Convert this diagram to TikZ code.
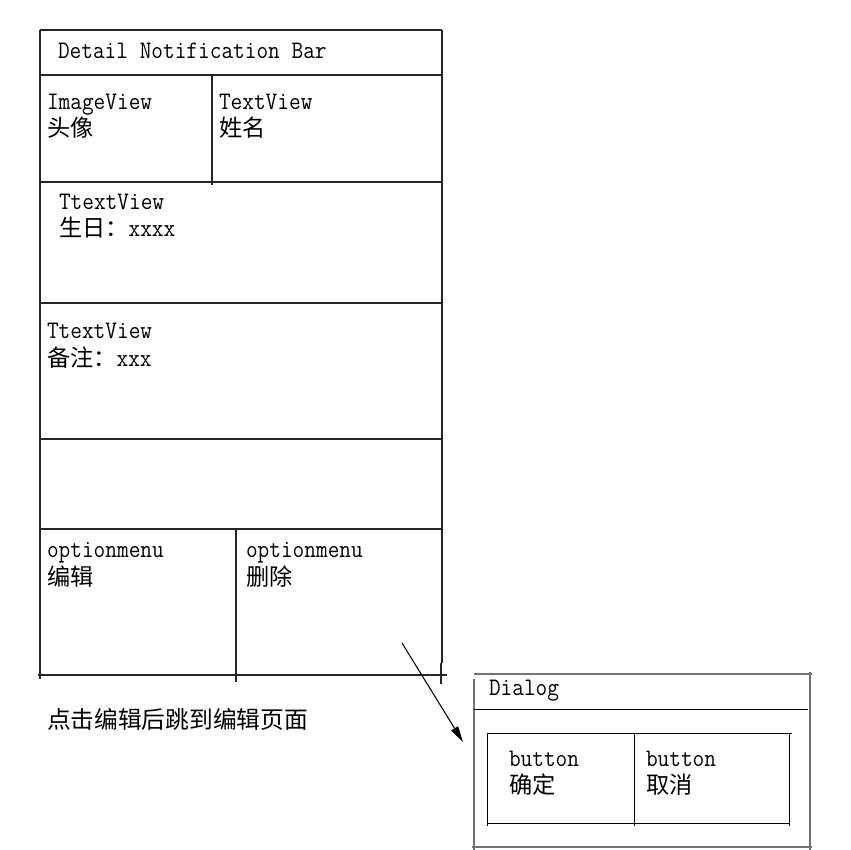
\documentclass[tikz,border=0pt]{standalone}
\usepackage{fontspec}
\usetikzlibrary{arrows.meta}
\newfontfamily\cjk{Noto Sans CJK SC}
\newfontfamily\lmm[FakeStretch=0.9]{Latin Modern Mono}
\newcommand{\latsz}{\lmm\fontsize{18.9pt}{21pt}\selectfont}
\newcommand{\cjksz}{\cjk\fontsize{17.4pt}{21pt}\selectfont}
\newcommand{\notesz}{\cjk\fontsize{17.8pt}{21pt}\selectfont}
\begin{document}
\begin{tikzpicture}[x=0.75pt,y=-0.75pt,
  ln/.style={line width=0.9pt,draw=black!85},
  gl/.style={line width=1pt,draw=black!55},
  thin/.style={line width=0.75pt,draw=black},
  tx/.style={anchor=base west,inner sep=0pt,outer sep=0pt,font=\latsz},
  cx/.style={anchor=base west,inner sep=0pt,outer sep=0pt,font=\cjksz}]
\useasboundingbox[fill=white] (0,0) rectangle (850,850);
% main screen
\draw[ln] (40,30) -- (442,30);
\draw[ln] (40,30) -- (40,679);
\draw[ln] (442,30) -- (442,663);
\draw[ln] (441,663) -- (441,684);
\draw[ln] (40,75) -- (442,75);
\draw[ln] (212,75) -- (212,185);
\draw[ln] (40,182) -- (442,182);
\draw[ln] (40,303) -- (442,303);
\draw[ln] (40,439) -- (442,439);
\draw[ln] (40,529) -- (442,529);
\draw[ln] (236,529) -- (236,682);
\draw[ln] (38,675) -- (447,675);
% texts main
\node[tx] (hdr) at (58,58) {Detail Notification Bar};
\node[tx] (iv) at (47,109) {ImageView};
\node[cx] (ivc) at (47,136) {头像};
\node[tx] (tv) at (219,109) {TextView};
\node[cx] (tvc) at (219,136) {姓名};
\node[tx] (t1) at (59,209) {TtextView};
\node[cx] (t1c) at (59,236) {生日：};
\node[tx] (t1x) at (t1c.base east) {xxxx};
\node[tx] (t2) at (47,338) {TtextView};
\node[cx] (t2c) at (47,366) {备注：};
\node[tx] (t2x) at (t2c.base east) {xxx};
\node[tx] (om1) at (47,557) {optionmenu};
\node[cx] (om1c) at (47,585) {编辑};
\node[tx] (om2) at (246,557) {optionmenu};
\node[cx] (om2c) at (246,585) {删除};
\node[cx,font=\notesz] (note) at (47,728) {点击编辑后跳到编辑页面};
% dialog
\draw[gl] (474,674) -- (812,674);
\draw[gl] (474,679) -- (474,850);
\draw[gl] (810,672) -- (810,850);
\draw[gl] (472,847) -- (812,847);
\draw[thin] (474,709) -- (808,709);
\draw[thin] (487,733) -- (792,733);
\draw[thin] (487,733) -- (487,826);
\draw[thin] (789,733) -- (789,826);
\draw[thin] (634,733) -- (634,826);
\draw[thin] (487,823) -- (790,823);
\node[tx] (dlg) at (489,695) {Dialog};
\node[tx] (b1) at (509,766) {button};
\node[cx] (b1c) at (509,793) {确定};
\node[tx] (b2) at (646,766) {button};
\node[cx] (b2c) at (646,793) {取消};
% arrow
\coordinate (as) at (402,643);
\coordinate (ae) at (463,742);
\draw[line width=0.8pt,-{Stealth[length=12pt,width=6pt,inset=0pt]}] (as) -- (ae);
\end{tikzpicture}
\end{document}
